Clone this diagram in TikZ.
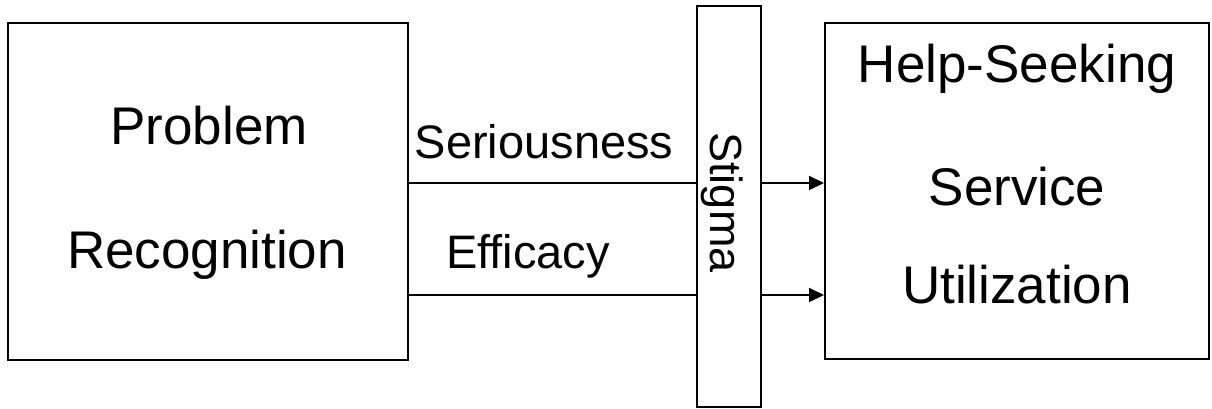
\documentclass[tikz,border=0pt]{standalone}
\usepackage{fontspec}
\setmainfont{Liberation Sans}
\usetikzlibrary{arrows.meta}

\begin{document}
\begin{tikzpicture}[x=1pt, y=-1pt,
  box/.style={draw=black, line width=2pt, fill=white, inner sep=0pt},
  bigtext/.style={anchor=base, inner sep=0pt, font=\fontsize{53}{60}\selectfont},
  label/.style={anchor=base, inner sep=0pt, font=\fontsize{47}{54}\selectfont},
  link/.style={line width=2pt},
  flow/.style={line width=2pt, -{Triangle[length=15pt, width=14pt]}}]
  \useasboundingbox (0,0) rectangle (1212,409);

  % the three blocks
  \node[box, minimum width=400pt, minimum height=337pt] (prob) at (208,191.5) {};
  \node[box, minimum width=64pt, minimum height=401pt] (stig) at (729,206.5) {};
  \node[box, minimum width=384pt, minimum height=336pt] (help) at (1017,191) {};

  % block texts
  \node[bigtext] (probA) at (209,145) {Problem};
  \node[bigtext] (probB) at (207,268) {Recognition};
  \node[bigtext] (helpA) at (1017,83) {Help-Seeking};
  \node[bigtext] (helpB) at (1017,205) {Service};
  \node[bigtext] (helpC) at (1017,303) {Utilization};
  \node[label, rotate=-90, font=\fontsize{45}{52}\selectfont] (stigT) at (710,202.5) {Stigma};

  % path labels
  \node[label] (ser) at (544,158) {Seriousness};
  \node[label] (eff) at (528,268) {Efficacy};

  % heights of the two paths
  \coordinate (rowA) at (0,183);
  \coordinate (rowB) at (0,295);

  % connectors through the stigma barrier
  \draw[link] (prob.east |- rowA) -- (stig.west |- rowA);
  \draw[link] (prob.east |- rowB) -- (stig.west |- rowB);
  \draw[flow] (stig.east |- rowA) -- (help.west |- rowA);
  \draw[flow] (stig.east |- rowB) -- (help.west |- rowB);
\end{tikzpicture}
\end{document}
